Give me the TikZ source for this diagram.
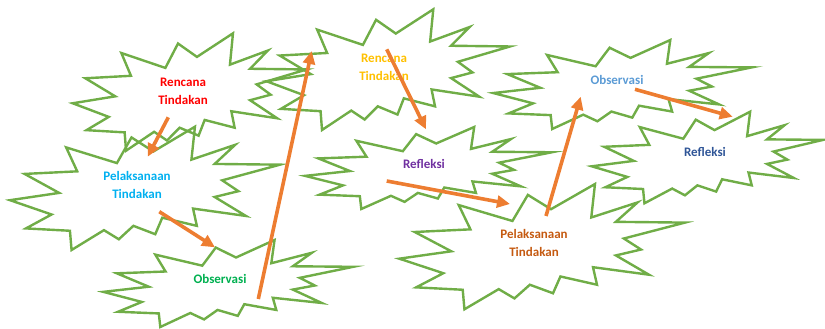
\documentclass[tikz,border=0pt]{standalone}
\usepackage{fontspec}
\setmainfont{Carlito}
\usetikzlibrary{arrows.meta}

\definecolor{burstgreen}{RGB}{112,173,71}
\definecolor{flowarrow}{RGB}{237,125,49}
\definecolor{txtred}{RGB}{255,0,0}
\definecolor{txtcyan}{RGB}{0,176,240}
\definecolor{txtgreen}{RGB}{0,176,80}
\definecolor{txtyellow}{RGB}{255,192,0}
\definecolor{txtpurple}{RGB}{112,48,160}
\definecolor{txtrust}{RGB}{197,90,17}
\definecolor{txtsky}{RGB}{91,155,213}
\definecolor{txtnavy}{RGB}{47,85,151}

% explosion outline fitted into the box (left, top) -- (right, bottom)
\newcommand\burstshape[4]{%
  \begin{scope}[shift={(#1,#2)},xscale={#3-#1},yscale={#4-#2}]
    \draw[burst] (0.531,0.201) -- (0.685,0) -- (0.672,0.267) -- (0.834,0.147)
      -- (0.758,0.302) -- (1,0.308) -- (0.786,0.435) -- (0.846,0.523)
      -- (0.758,0.570) -- (0.874,0.724) -- (0.678,0.664) -- (0.692,0.804)
      -- (0.564,0.738) -- (0.538,0.872) -- (0.457,0.804) -- (0.403,0.913)
      -- (0.348,0.839) -- (0.228,1) -- (0.222,0.844) -- (0.059,0.825)
      -- (0.154,0.712) -- (0,0.596) -- (0.182,0.537) -- (0.054,0.383)
      -- (0.249,0.362) -- (0.208,0.168) -- (0.396,0.295) -- (0.450,0.087)
      -- cycle;
  \end{scope}}

\begin{document}
\begin{tikzpicture}[x=1pt,y=-1pt,
    burst/.style={draw=burstgreen,line width=2.4pt,line join=miter},
    lbl/.style={font=\fontsize{13}{18}\selectfont\bfseries,align=center,inner sep=0pt},
    flow/.style={draw=flowarrow,line width=3.6pt,
      -{Triangle[length=13pt,width=12pt]}}]
  \useasboundingbox (0,0) rectangle (825,329);

  % the eight bursts
  \burstshape{72.7}{33.3}{306.7}{150.7}
  \burstshape{10}{126.7}{280}{250}
  \burstshape{103.3}{240}{353.3}{327}
  \burstshape{266.5}{9.3}{510}{130}
  \burstshape{305}{127}{552}{209}
  \burstshape{399.3}{184}{685}{309.3}
  \burstshape{493.3}{40}{751.7}{129}
  \burstshape{591.7}{111.7}{823}{203.3}

  % labels
  \node[lbl,text=txtred]    (plan1)  at (183,91)    {Rencana\\Tindakan};
  \node[lbl,text=txtcyan]   (act1)   at (137,185)   {Pelaksanaan\\Tindakan};
  \node[lbl,text=txtgreen]  (obs1)   at (220,278.5) {Observasi};
  \node[lbl,text=txtyellow] (plan2)  at (384,67)    {Rencana\\Tindakan};
  \node[lbl,text=txtpurple] (refl1)  at (424,163.5) {Refleksi};
  \node[lbl,text=txtrust]   (act2)   at (534,242.5) {Pelaksanaan\\Tindakan};
  \node[lbl,text=txtsky]    (obs2)   at (617,80)    {Observasi};
  \node[lbl,text=txtnavy]   (refl2)  at (705,152)   {Refleksi};

  % arrow ends
  \coordinate (f1a) at (168.3,117.3); \coordinate (f1b) at (147.7,156.7);
  \coordinate (f2a) at (159.3,211.7); \coordinate (f2b) at (215,247.3);
  \coordinate (f3a) at (258.3,299);   \coordinate (f3b) at (311.7,51);
  \coordinate (f4a) at (386.7,49.3);  \coordinate (f4b) at (426,129.3);
  \coordinate (f5a) at (386.7,181);   \coordinate (f5b) at (510,204);
  \coordinate (f6a) at (546,216);     \coordinate (f6b) at (580.7,96.7);
  \coordinate (f7a) at (635,89.3);    \coordinate (f7b) at (732.7,116.7);

  % cycle arrows
  \draw[flow] (f1a) -- (f1b);
  \draw[flow] (f2a) -- (f2b);
  \draw[flow] (f3a) -- (f3b);
  \draw[flow] (f4a) -- (f4b);
  \draw[flow] (f5a) -- (f5b);
  \draw[flow] (f6a) -- (f6b);
  \draw[flow] (f7a) -- (f7b);
\end{tikzpicture}
\end{document}
